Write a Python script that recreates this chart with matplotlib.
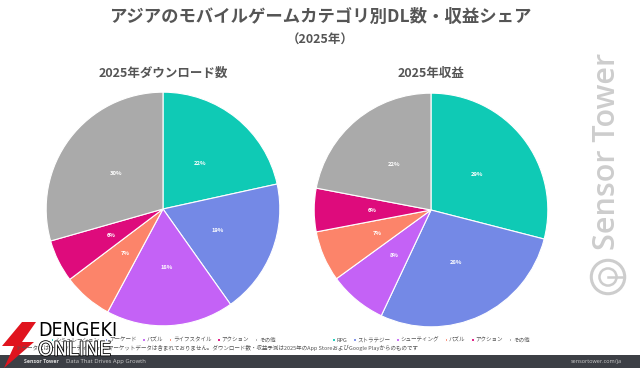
import matplotlib.pyplot as plt
import matplotlib.patheffects as pe
from matplotlib.patches import Circle, Rectangle, Polygon

plt.rcParams['font.family'] = ['Noto Sans CJK JP', 'DejaVu Sans']

# data
colors = ["#0fcab5", "#7489e6", "#c462f6", "#fc846a", "#de0b7c", "#aaaaaa"]
dl_labels = ["シミュレーション", "アーケード", "パズル", "ライフスタイル", "アクション", "その他"]
dl_share = [22, 19, 18, 7, 6, 30]
rev_labels = ["RPG", "ストラテジー", "シューティング", "パズル", "アクション", "その他"]
rev_share = [29, 28, 8, 7, 6, 22]

W, H = 640, 368
fig = plt.figure(figsize=(6.4, 3.68), dpi=100)
fig.patch.set_facecolor("white")


def fx(x):
    return x / W


def fy(y):
    return 1 - y / H


def draw_pie(cx, cy, r, vals, labels, title):
    ax = fig.add_axes([fx(cx - r), fy(cy + r), 2 * r / W, 2 * r / H])
    wedges, _, autotexts = ax.pie(vals, colors=colors, startangle=90, counterclock=False,
                                  radius=1, autopct="%.0f%%", pctdistance=0.5,
                                  wedgeprops=dict(edgecolor="white", linewidth=0.8),
                                  textprops=dict(color="white", fontsize=4.2, fontweight="bold"))
    # autopct normalises the rounded shares; show the values as read
    for t, v in zip(autotexts, vals):
        t.set_text(f"{v}%")
    ax.set_xlim(-1.01, 1.01)
    ax.set_ylim(-1.01, 1.01)
    fig.text(fx(cx), fy(73), title, ha="center", va="center", fontsize=9,
             fontweight="bold", color="#555555")
    fig.legend(wedges, labels, loc="center", bbox_to_anchor=(fx(cx), fy(340)),
               ncol=6, frameon=False, fontsize=4, handlelength=0.5, handleheight=0.5,
               handletextpad=0.3, columnspacing=1.0, labelcolor="#555555")


draw_pie(163, 209, 118, dl_share, dl_labels, "2025年ダウンロード数")
draw_pie(431, 210, 118, rev_share, rev_labels, "2025年収益")

fig.text(0.5, fy(17), "アジアのモバイルゲームカテゴリ別DL数・収益シェア", ha="center",
         va="center", fontsize=12.5, fontweight="bold", color="#555555")
fig.text(0.5, fy(40), "（2025年）", ha="center", va="center", fontsize=9,
         fontweight="bold", color="#555555")

fig.text(fx(16), fy(348), "※データにはサードパーティAndroidマーケットデータは含まれておりません。"
         "ダウンロード数・収益予測は2025年のApp StoreおよびGoogle Playからのものです",
         ha="left", va="center", fontsize=4, color="#555555")

# vertical watermark
fig.text(fx(607), fy(151), "Sensor Tower", rotation=90, ha="center", va="center",
         fontsize=22, family="Open Sans", color="#cdcdcd", fontweight="semibold")
lax = fig.add_axes([fx(589), fy(296), 38 / W, 38 / H])
lax.set_xlim(-1, 1)
lax.set_ylim(-1, 1)
lax.set_aspect("equal")
lax.axis("off")
lax.add_patch(Circle((0, 0), 0.88, fill=False, edgecolor="#cdcdcd", linewidth=2.2))
lax.add_patch(Circle((0, 0), 0.45, fill=False, edgecolor="#cdcdcd", linewidth=1.8))
lax.plot([0, 0.75], [0, 0], color="#cdcdcd", linewidth=1.8)

# bottom bar
fig.patches.append(Rectangle((0, 0), 1, 13 / H, transform=fig.transFigure,
                             facecolor="#3c3f45", edgecolor="none"))
fig.text(fx(24), fy(361.5), "Sensor Tower", fontsize=3.8, color="#dddddd",
         va="center", fontweight="bold", family="Open Sans")
fig.text(fx(66), fy(361.5), "Data That Drives App Growth", fontsize=4.2,
         color="#cccccc", va="center", family="Open Sans")
fig.text(fx(622), fy(361.5), "sensortower.com/ja", fontsize=4, color="#cccccc",
         va="center", ha="right", family="Open Sans")

# site watermark
fig.patches.append(Polygon([(fx(22), fy(322)), (fx(36), fy(322)), (fx(22), fy(342)),
                            (fx(34), fy(342)), (fx(4), fy(368)), (fx(14), fy(346)),
                            (fx(2), fy(346))], closed=True, transform=fig.transFigure,
                           facecolor="#e0141e", edgecolor="none"))
fig.text(fx(38), fy(331), "DENGEKI", fontsize=14, color="black", va="center",
         family="DejaVu Sans", fontstretch="condensed")
t = fig.text(fx(38), fy(350), "ONLINE", fontsize=14, color="white", va="center",
             family="DejaVu Sans")
t.set_path_effects([pe.withStroke(linewidth=1.2, foreground="black")])

fig.savefig("out.png", dpi=100)
